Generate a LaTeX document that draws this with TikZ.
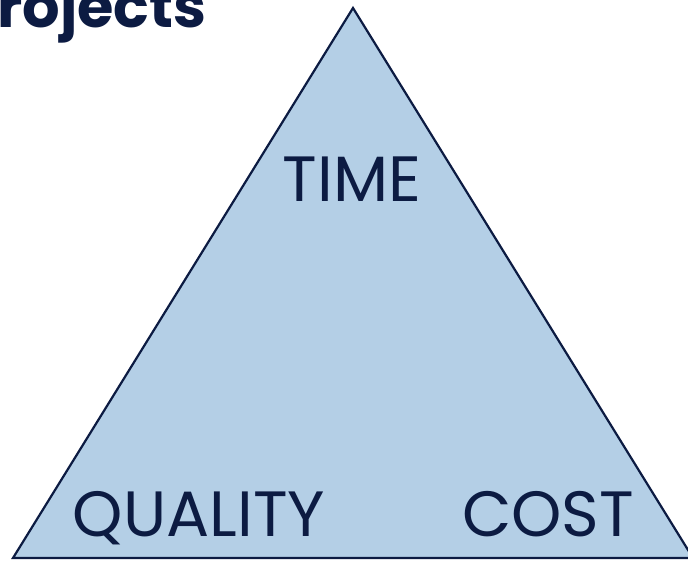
\documentclass[tikz,border=0pt]{standalone}
\usepackage{fontspec}
\setmainfont{Poppins}
\definecolor{navy}{HTML}{0C1B42}
\definecolor{tri}{HTML}{B4CFE6}
\begin{document}
\begin{tikzpicture}[x=1pt,y=-1pt,
  lbl/.style={font=\fontsize{64}{64}\selectfont, text=navy, inner sep=0pt, anchor=base},
  titletext/.style={font=\fontsize{59}{59}\selectfont\bfseries, text=navy, inner sep=0pt, anchor=base west},
  triangle/.style={draw=navy, line width=2.2pt, fill=tri, line join=miter}]
\useasboundingbox (0,0) rectangle (688,561);
\clip (0,0) rectangle (688,561);
\coordinate (apex) at (353,8);
\coordinate (bl) at (13,558);
\coordinate (br) at (693,558);
\draw[triangle] (apex) -- (bl) -- (br) -- cycle;
\node[lbl] (time) at (352,202) {TIME};
\node[lbl] (quality) at (199,536) {QUALITY};
\node[lbl] (cost) at (548,536) {COST};
\node[titletext] (title) at (-3,28) {rojects};
\end{tikzpicture}
\end{document}
